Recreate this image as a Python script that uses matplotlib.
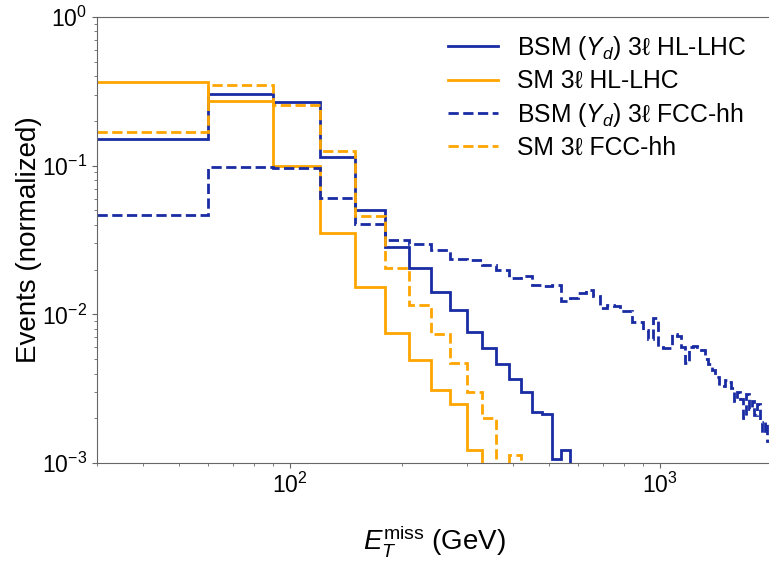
import numpy as np
import matplotlib.pyplot as plt

plt.rcParams['font.family'] = ['Liberation Sans', 'DejaVu Sans']
plt.rcParams['mathtext.fontset'] = 'custom'
plt.rcParams['mathtext.rm'] = 'Liberation Sans'
plt.rcParams['mathtext.it'] = 'Liberation Sans:italic'
plt.rcParams['mathtext.bf'] = 'Liberation Sans:bold'

# 30 GeV bins starting at 30 GeV
bin_start = 30
bin_width = 30

bsm_hl = [0.152, 0.301, 0.269, 0.115, 0.050, 0.0285, 0.0205, 0.0141, 0.0107,
          0.0076, 0.0059, 0.0046, 0.0037, 0.0030, 0.0022, 0.00215, 0.00106,
          0.00122, 0.0004]
sm_hl = [0.365, 0.273, 0.100, 0.035, 0.0152, 0.0075, 0.0049, 0.0031, 0.0025,
         0.00122, 0.0004]
bsm_fcc = [0.0465, 0.0977, 0.0968, 0.0604, 0.0403, 0.0318, 0.0298, 0.0270,
           0.0236, 0.0232, 0.0216, 0.0200, 0.0175, 0.0182, 0.0158, 0.0156,
           0.0157, 0.0123, 0.0128, 0.0140, 0.0146, 0.0132, 0.0110, 0.0115,
           0.0113, 0.0106, 0.0105, 0.0089, 0.0089, 0.0078, 0.0068, 0.0094,
           0.0060, 0.0059, 0.0059, 0.0074, 0.0072, 0.0060, 0.0047, 0.0060,
           0.0061, 0.0060, 0.0058, 0.0050, 0.0046, 0.0042, 0.0038, 0.0033,
           0.0033, 0.0036, 0.0035, 0.0032, 0.0026, 0.0030, 0.0027, 0.0020,
           0.0029, 0.0023, 0.0026, 0.0021, 0.0025, 0.0019, 0.0016, 0.0019,
           0.0014, 0.0012]
sm_fcc = [0.168, 0.348, 0.257, 0.125, 0.0455, 0.0205, 0.0116, 0.0074, 0.0047,
          0.0030, 0.0020, 0.00099, 0.00114, 0.0004]

labels = [r'BSM ($Y_d$) 3ℓ HL-LHC', 'SM 3ℓ HL-LHC',
          r'BSM ($Y_d$) 3ℓ FCC-hh', 'SM 3ℓ FCC-hh']

blue = '#1a2ca3'
orange = '#ffa500'


def edges(vals):
    return bin_start + bin_width * np.arange(len(vals) + 1)


fig = plt.figure(figsize=(7.69, 5.64), dpi=100)
ax = fig.add_axes([0.126, 0.179, 0.877, 0.791])

ax.stairs(bsm_hl, edges(bsm_hl), baseline=None, color=blue, lw=2, label=labels[0])
ax.stairs(sm_hl, edges(sm_hl), baseline=None, color=orange, lw=2, label=labels[1])
ax.stairs(bsm_fcc, edges(bsm_fcc), baseline=None, color=blue, lw=2, ls='--', label=labels[2])
ax.stairs(sm_fcc, edges(sm_fcc), baseline=None, color=orange, lw=2, ls='--', label=labels[3])

ax.set_xscale('log')
ax.set_yscale('log')
ax.set_xlim(30, 2000)
ax.set_ylim(1e-3, 1)

ax.set_xlabel(r'$E_T^{\mathrm{miss}}$ (GeV)', fontsize=20, labelpad=18)
ax.set_ylabel('Events (normalized)', fontsize=20, labelpad=0)
ax.tick_params(which='both', labelsize=16.5, color='#666666')
for s in ax.spines.values():
    s.set_color('#666666')

ax.legend(loc='upper right', bbox_to_anchor=(0.997, 1.012), frameon=False,
          fontsize=17.8, handlelength=2.0, labelspacing=0.3)

fig.savefig('out.png', dpi=100)
